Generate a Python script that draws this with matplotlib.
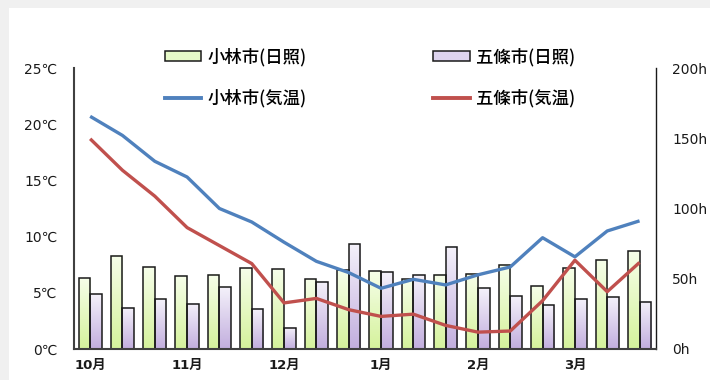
import numpy as np
import matplotlib
matplotlib.use('Agg')
from matplotlib import pyplot as plt
from matplotlib.patches import Patch, Rectangle
from matplotlib.lines import Line2D
from matplotlib.colors import LinearSegmentedColormap

plt.rcParams['font.family'] = ['Noto Sans CJK JP', 'DejaVu Sans']
latin = ['DejaVu Sans', 'Noto Sans CJK JP']

# 上旬/中旬/下旬 for Oct..Mar
months = ['10月', '11月', '12月', '1月', '2月', '3月']
kobayashi_sun = [50.3, 66.4, 58.1, 51.7, 52.7, 57.4, 56.7, 49.8, 56.2,
                 55.5, 49.8, 52.9, 53.6, 60.0, 44.8, 57.4, 63.6, 69.5]
gojo_sun = [39.1, 29.4, 35.3, 32.3, 43.9, 28.5, 15.2, 47.9, 74.5,
            54.8, 52.4, 72.8, 43.2, 37.7, 31.3, 35.8, 36.8, 33.7]
kobayashi_temp = [20.7, 19.0, 16.7, 15.3, 12.5, 11.3, 9.5, 7.8, 6.8,
                  5.4, 6.2, 5.7, 6.6, 7.3, 9.9, 8.2, 10.5, 11.4]
gojo_temp = [18.7, 15.9, 13.6, 10.8, 9.2, 7.6, 4.1, 4.5, 3.5,
             2.9, 3.1, 2.1, 1.5, 1.6, 4.3, 7.9, 5.1, 7.7]
temp_ticks = [0, 5, 10, 15, 20, 25]
sun_ticks = [0, 50, 100, 150, 200]

green_cmap = LinearSegmentedColormap.from_list('g', ['#d5f29c', '#f6fee9'])
purple_cmap = LinearSegmentedColormap.from_list('p', ['#c2aede', '#f4f1fa'])

fig = plt.figure(figsize=(7.1, 3.8), dpi=100, facecolor='#f0f0f0')
fig.patches.append(Rectangle((9 / 710, 0), 1, 1 - 8 / 380, transform=fig.transFigure,
                             facecolor='white', edgecolor='none', zorder=-10))

ax = fig.add_axes([74 / 710, 31 / 380, (655.7 - 74) / 710, 281 / 380])
ax2 = ax.twinx()
ax.set_zorder(ax2.get_zorder() + 1)
ax.patch.set_visible(False)

n = len(kobayashi_sun)
x = np.arange(n) + 0.5
w = 0.36
grad = np.linspace(0, 1, 100).reshape(-1, 1)
for i in range(n):
    for val, off, cmap in [(kobayashi_sun[i], -w / 2, green_cmap), (gojo_sun[i], w / 2, purple_cmap)]:
        x0 = x[i] + off - w / 2
        ax2.imshow(grad, cmap=cmap, origin='lower', aspect='auto',
                   extent=(x0, x0 + w, 0, val), zorder=1)
        ax2.add_patch(Rectangle((x0, 0), w, val, facecolor='none',
                                edgecolor='#1a1a1a', lw=1.1, zorder=2))

ax.plot(x, kobayashi_temp, color='#4f81bd', lw=2.4, solid_capstyle='butt')
ax.plot(x, gojo_temp, color='#c0504d', lw=2.4, solid_capstyle='butt')

ax.set_xlim(0, n)
ax.set_ylim(0, 25)
ax2.set_ylim(0, 200)
ax2.set_xlim(0, n)

ax.set_yticks(temp_ticks)
ax.set_yticklabels([f'{t}℃' for t in temp_ticks], family=latin)
ax2.set_yticks(sun_ticks)
ax2.set_yticklabels([f'{t}h' for t in sun_ticks], family=latin)
ax.set_xticks(x[::3])
ax.set_xticklabels(months, family=latin, fontweight='bold')
ax.tick_params(axis='y', length=0, pad=12, labelsize=10, colors='#1a1a1a')
ax2.tick_params(axis='y', length=0, pad=12, labelsize=10, colors='#1a1a1a')
ax.tick_params(axis='x', length=0, pad=7, labelsize=9.5, colors='#1a1a1a')

for a in (ax, ax2):
    a.spines['top'].set_visible(False)
ax.spines['right'].set_visible(False)
ax.spines['left'].set_color('#404040')
ax.spines['left'].set_linewidth(1.5)
ax.spines['bottom'].set_color('#404040')
ax.spines['bottom'].set_linewidth(1.5)
ax2.spines['left'].set_visible(False)
ax2.spines['bottom'].set_visible(False)
ax2.spines['right'].set_color('#1a1a1a')
ax2.spines['right'].set_linewidth(1.0)

handles = [
    Patch(facecolor='#e6f9c8', edgecolor='#1a1a1a', lw=1.1),
    Line2D([], [], color='#4f81bd', lw=2.8),
    Patch(facecolor='#ddd3ee', edgecolor='#1a1a1a', lw=1.1),
    Line2D([], [], color='#c0504d', lw=2.8),
]
labels = ['小林市(日照)', '小林市(気温)', '五條市(日照)', '五條市(気温)']
fig.legend(handles, labels, ncol=2, loc='upper left',
           bbox_to_anchor=(165 / 710, 1 - 48 / 380), frameon=False,
           prop={'size': 12.5, 'weight': 'medium'}, handlelength=2.1, handleheight=0.5,
           handletextpad=0.35, labelspacing=1.3, columnspacing=7.3,
           borderpad=0, borderaxespad=0)

fig.savefig('out.png', dpi=100, facecolor=fig.get_facecolor())
